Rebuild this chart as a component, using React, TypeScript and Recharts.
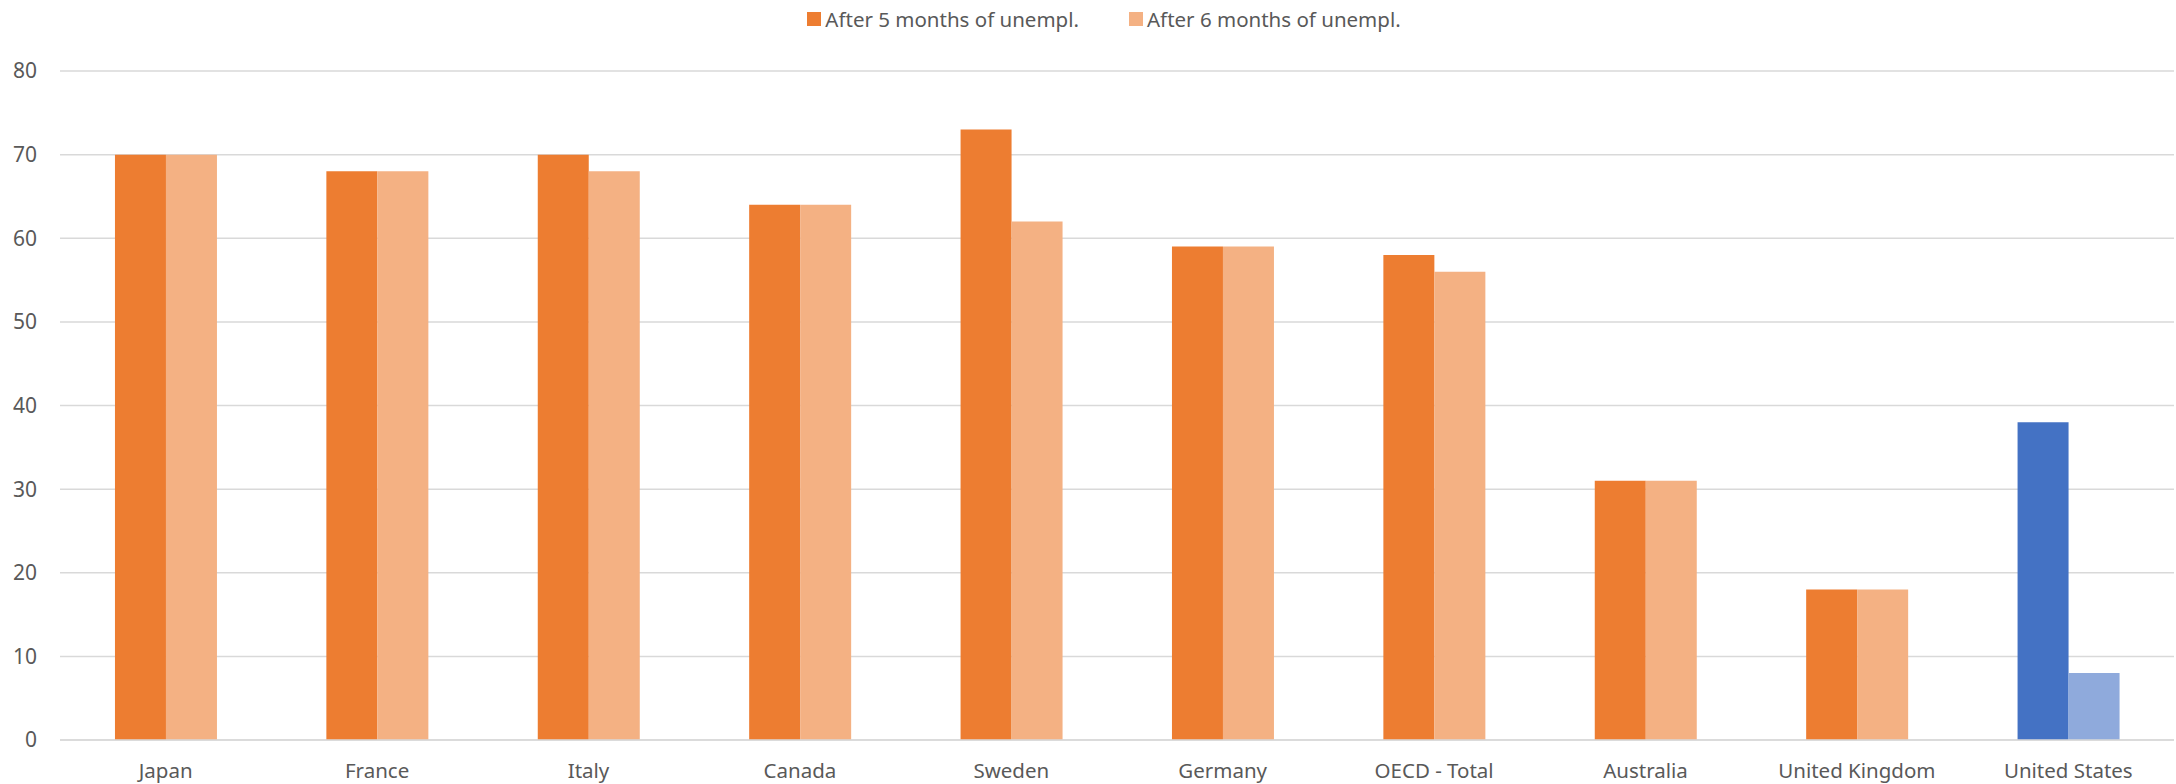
import { BarChart, Bar, XAxis, YAxis, CartesianGrid, Legend, Cell } from "recharts";

const countries = [
  "Japan",
  "France",
  "Italy",
  "Canada",
  "Sweden",
  "Germany",
  "OECD - Total",
  "Australia",
  "United Kingdom",
  "United States",
];
const after5 = [70, 68, 70, 64, 73, 59, 58, 31, 18, 38];
const after6 = [70, 68, 68, 64, 62, 59, 56, 31, 18, 8];
const yTicks = [0, 10, 20, 30, 40, 50, 60, 70, 80];

const ORANGE = "#ED7D31";
const ORANGE_LIGHT = "#F4B183";
const BLUE = "#4472C4";
const BLUE_LIGHT = "#8FAADC";
const FONT = "'Noto Sans', sans-serif";
const TEXT = "#595959";

const data = countries.map((name, i) => ({ name, a5: after5[i], a6: after6[i] }));

function LegendContent() {
  const items = [
    { label: "After 5 months of unempl.", color: ORANGE },
    { label: "After 6 months of unempl.", color: ORANGE_LIGHT },
  ];
  return (
    <div
      style={{
        display: "flex",
        justifyContent: "center",
        gap: 50,
        paddingLeft: 32,
        fontFamily: FONT,
        fontSize: 20.5,
        lineHeight: "28px",
        color: TEXT,
      }}
    >
      {items.map((it) => (
        <div key={it.label} style={{ display: "flex", alignItems: "center" }}>
          <span style={{ width: 14, height: 14, background: it.color, marginRight: 4, display: "inline-block" }} />
          <span>{it.label}</span>
        </div>
      ))}
    </div>
  );
}

export default function App() {
  return (
    <div style={{ position: "absolute", left: 0, top: 0, width: 2176, height: 784, background: "#fff" }}>
      <BarChart
        width={2176}
        height={784}
        data={data}
        margin={{ top: 71, right: 2, left: 0, bottom: 0 }}
        barCategoryGap="26%"
        barGap={0}
      >
        <CartesianGrid vertical={false} stroke="#d9d9d9" strokeWidth={1.5} />
        <XAxis
          dataKey="name"
          axisLine={{ stroke: "#d9d9d9", strokeWidth: 1.5 }}
          tickLine={false}
          height={44}
          tickMargin={17}
          interval={0}
          tick={{ fill: TEXT, fontSize: 20.5, fontFamily: FONT }}
        />
        <YAxis
          domain={[0, 80]}
          ticks={yTicks}
          width={60}
          axisLine={false}
          tickLine={false}
          tickMargin={17}
          tick={{ fill: TEXT, fontSize: 21, fontFamily: FONT }}
        />
        <Legend
          verticalAlign="middle"
          layout="horizontal"
          wrapperStyle={{ top: 5, left: 0, width: 2176 }}
          content={<LegendContent />}
        />
        <Bar dataKey="a5" fill={ORANGE} isAnimationActive={false}>
          {data.map((d, i) => (
            <Cell key={i} fill={d.name === "United States" ? BLUE : ORANGE} />
          ))}
        </Bar>
        <Bar dataKey="a6" fill={ORANGE_LIGHT} isAnimationActive={false}>
          {data.map((d, i) => (
            <Cell key={i} fill={d.name === "United States" ? BLUE_LIGHT : ORANGE_LIGHT} />
          ))}
        </Bar>
      </BarChart>
    </div>
  );
}
